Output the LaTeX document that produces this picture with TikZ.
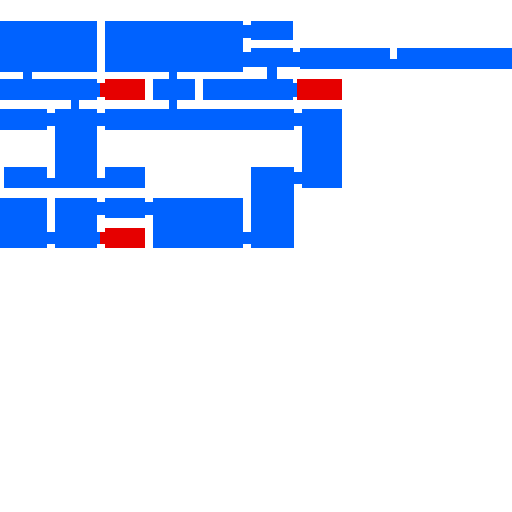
\documentclass[tikz,border=0pt]{standalone}
\usepackage{tikz}

\definecolor{roomblue}{RGB}{0,98,255}
\definecolor{roomred}{RGB}{230,0,0}

\begin{document}
\begin{tikzpicture}[x=1pt, y=-1pt, room/.style={fill=roomblue}, hot/.style={fill=roomred}]
        \useasboundingbox (0,0) rectangle (512,512);

        % rooms
        \foreach \xa/\ya/\xb/\yb in {0/21/97.3/71.7, 105/21/242.7/71.7, 250.7/21/293.3/40,
                250.7/47.7/293.3/67, 300/48.3/390/69.3, 397/48.3/512/69.3,
                0/79.3/97.3/100, 152.7/79.3/195/100, 202.7/79.3/293.3/100,
                0/109.3/46.7/130, 55/109.3/97.3/188.3, 105/109.3/294/130, 301.7/109.3/341.7/188.3,
                4.3/167.3/46.7/188.3, 105/167.3/145/188.3, 250.7/167.3/294/248.3,
                0/197.7/46.7/248.3, 55/197.7/97.3/248.3, 105/197.7/145/218.3, 152.7/197.7/242.7/248.3}
            \fill[room] (\xa,\ya) rectangle (\xb,\yb);

        % doors
        \foreach \xa/\ya/\xb/\yb in {22.7/71.7/31.7/79.3, 169.3/71.7/176.7/79.3, 266.7/67/277.3/79.3,
                242.7/25/250.7/37.7, 242.7/51.7/250.7/66.7, 293.3/51.7/300/66.7, 390/59/397/69.3,
                97.3/83.3/100/96.7, 293.3/83.3/297.3/96.7,
                70.7/100/79.3/109.3, 169.3/100/176.7/109.3,
                46.7/113.3/55/126, 97.3/113.3/105/126, 294/113.3/301.7/126,
                46.7/178.3/55/188.3, 97.3/178.3/105/188.3, 294/171.7/301.7/184,
                97.3/201.7/105/215, 145/201.7/152.7/215,
                46.7/231.7/55/244, 97.3/231.7/100/244, 242.7/231.7/250.7/244}
            \fill[room] (\xa,\ya) rectangle (\xb,\yb);

        % red rooms
        \fill[hot] (105,79.3) rectangle (145,100);
        \fill[hot] (100,83.3) rectangle (105,96.7);
        \fill[hot] (297.3,79.3) rectangle (341.7,100);
        \fill[hot] (105,228.3) rectangle (145,248.3);
        \fill[hot] (100,231.7) rectangle (105,244);
    \end{tikzpicture}
\end{document}
